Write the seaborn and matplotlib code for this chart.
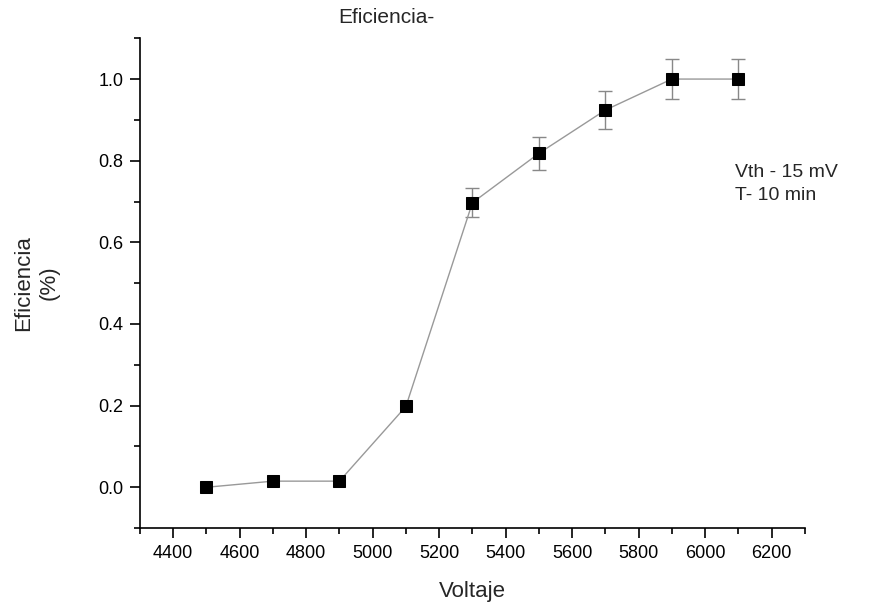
import numpy as np
import pandas as pd
import matplotlib
matplotlib.use("Agg")
import matplotlib.pyplot as plt
import seaborn as sns
from matplotlib.ticker import MultipleLocator

# datos
voltaje = [4500, 4700, 4900, 5100, 5300, 5500, 5700, 5900, 6100]
eficiencia = [0.0, 0.015, 0.015, 0.198, 0.697, 0.818, 0.924, 1.0, 1.0]
error = [0.0, 0.0, 0.0, 0.0, 0.035, 0.04, 0.046, 0.05, 0.05]

df = pd.DataFrame({"Voltaje": voltaje, "Eficiencia": eficiencia, "err": error})

sns.set_style("ticks")
plt.rcParams['font.family'] = ['Liberation Sans', 'DejaVu Sans']

fig = plt.figure(figsize=(8.71, 6.07), dpi=100)
ax = fig.add_axes([0.1607, 0.130, 0.7633, 0.807])

# barras de error
mask = df["err"] > 0
ax.errorbar(df["Voltaje"][mask], df["Eficiencia"][mask], yerr=df["err"][mask],
            fmt='none', ecolor='#888888', elinewidth=1, capsize=5, capthick=1, zorder=2)

sns.lineplot(data=df, x="Voltaje", y="Eficiencia", ax=ax, color='#999999', linewidth=1,
             marker='s', markersize=8.5, markerfacecolor='black', markeredgecolor='black',
             zorder=3)

ax.set_xlim(4300, 6300)
ax.set_ylim(-0.1, 1.1)
ax.xaxis.set_major_locator(MultipleLocator(200))
ax.xaxis.set_minor_locator(MultipleLocator(100))
ax.yaxis.set_major_locator(MultipleLocator(0.2))
ax.yaxis.set_minor_locator(MultipleLocator(0.1))
ax.yaxis.set_major_formatter(matplotlib.ticker.FormatStrFormatter('%.1f'))

sns.despine(ax=ax)
for s in ['left', 'bottom']:
    ax.spines[s].set_linewidth(1.2)
    ax.spines[s].set_color('black')
ax.tick_params(which='major', direction='out', length=7, width=1.2, labelsize=13,
               colors='black', pad=5)
ax.tick_params(which='minor', direction='out', length=4, width=1.2, colors='black')

ax.set_xlabel("Voltaje", fontsize=16, labelpad=14)
ax.set_ylabel("Eficiencia\n(%)", fontsize=16, labelpad=28, linespacing=1.25)
ax.set_title("Eficiencia-", fontsize=15, x=0.37, pad=11)

ax.text(6089, 0.742, "Vth - 15 mV\nT- 10 min", fontsize=14, va='center', ha='left',
        linespacing=1.45)

fig.savefig("out.png", dpi=100)
